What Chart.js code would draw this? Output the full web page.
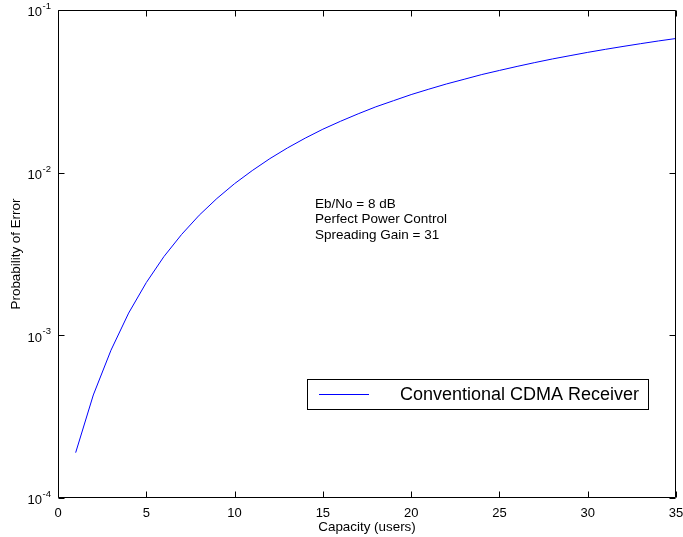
<!DOCTYPE html>
<html>
<head>
<meta charset="utf-8">
<script src="https://cdn.jsdelivr.net/npm/chart.js@4.4.1/dist/chart.umd.min.js"></script>
<style>
  html, body { margin: 0; padding: 0; background: #fff; }
  #wrap { width: 683px; height: 537px; }
</style>
</head>
<body>
<div id="wrap"><canvas id="pe" width="683" height="537"></canvas></div>
<script>
// capacity (number of users) and probability of error
const users = [1, 2, 3, 4, 5, 6, 7, 8, 9, 10, 11, 12, 13, 14, 15, 16, 17, 18,
  19, 20, 21, 22, 23, 24, 25, 26, 27, 28, 29, 30, 31, 32, 33, 34, 35];
const probError = [1.9e-4, 4.3e-4, 8.1e-4, 1.37e-3, 2.11e-3, 3.05e-3, 4.17e-3,
  5.48e-3, 6.94e-3, 8.56e-3, 0.0103, 0.0122, 0.0142, 0.0163, 0.0185, 0.0207,
  0.0230, 0.0254, 0.0277, 0.0302, 0.0326, 0.0351, 0.0375, 0.0401, 0.0425,
  0.0450, 0.0475, 0.0500, 0.0524, 0.0549, 0.0573, 0.0597, 0.0621, 0.0645, 0.0668];

const xTicks = [0, 5, 10, 15, 20, 25, 30, 35];
const yTicks = [1e-4, 1e-3, 1e-2, 1e-1];
const yTickExp = ["-4", "-3", "-2", "-1"];

const seriesName = "Conventional CDMA Receiver";
const noteLines = ["Eb/No = 8 dB", "Perfect Power Control", "Spreading Gain = 31"];

const FONT = "'Liberation Sans', Arial, Helvetica, sans-serif";

// axes box, inward ticks (all 4 sides), y labels as 10^n, note and legend
const matlabAxes = {
  id: "matlabAxes",
  afterDatasetsDraw(chart) {
    const { ctx, chartArea: a, scales } = chart;
    const x = scales.x, y = scales.y;
    const L = Math.round(a.left) + 0.5, R = Math.round(a.right) - 0.5;
    const T = Math.round(a.top) + 0.5, B = Math.round(a.bottom) - 0.5;
    const tl = 6;

    ctx.save();
    ctx.strokeStyle = "#000";
    ctx.lineWidth = 1;
    ctx.beginPath();
    xTicks.forEach(v => {
      const px = Math.round(x.getPixelForValue(v)) + 0.5;
      ctx.moveTo(px, B); ctx.lineTo(px, B - tl);
      ctx.moveTo(px, T); ctx.lineTo(px, T + tl);
    });
    yTicks.forEach(v => {
      const py = Math.round(y.getPixelForValue(v)) + 0.5;
      ctx.moveTo(L, py); ctx.lineTo(L + tl, py);
      ctx.moveTo(R, py); ctx.lineTo(R - tl, py);
    });
    ctx.rect(L, T, R - L, B - T);
    ctx.stroke();

    // y tick labels 10^n
    ctx.fillStyle = "#000";
    ctx.textBaseline = "alphabetic";
    yTicks.forEach((v, i) => {
      const py = y.getPixelForValue(v);
      ctx.font = "13px " + FONT;
      ctx.textAlign = "right";
      ctx.fillText("10", 42, py + 6.3);
      ctx.font = "9.5px " + FONT;
      ctx.textAlign = "left";
      ctx.fillText(yTickExp[i], 42.5, py - 1);
    });

    // annotation
    ctx.font = "13.5px " + FONT;
    ctx.textAlign = "left";
    ctx.textBaseline = "middle";
    noteLines.forEach((s, i) => ctx.fillText(s, 315, 204 + i * 15.5));

    // legend
    const ds = chart.data.datasets[0];
    ctx.fillStyle = "#fff";
    ctx.fillRect(307.5, 379.5, 341, 30);
    ctx.strokeRect(307.5, 379.5, 341, 30);
    ctx.strokeStyle = ds.borderColor;
    ctx.beginPath();
    ctx.moveTo(319, 394.5); ctx.lineTo(369, 394.5);
    ctx.stroke();
    ctx.fillStyle = "#000";
    ctx.font = "18px " + FONT;
    ctx.fillText(ds.label, 400, 395);
    ctx.restore();
  }
};

new Chart(document.getElementById("pe"), {
  type: "line",
  data: {
    datasets: [{
      label: seriesName,
      data: users.map((u, i) => ({ x: u, y: probError[i] })),
      borderColor: "#0000ff",
      borderWidth: 1,
      pointRadius: 0,
      tension: 0,
      fill: false
    }]
  },
  options: {
    responsive: false,
    devicePixelRatio: 1,
    animation: false,
    layout: { padding: { top: 10, right: 7, left: 0, bottom: 0 } },
    plugins: { legend: { display: false }, tooltip: { enabled: false } },
    scales: {
      x: {
        type: "linear",
        min: 0,
        max: 35,
        afterBuildTicks: s => { s.ticks = xTicks.map(v => ({ value: v })); },
        afterFit: s => { s.height = 39; s.paddingLeft = 0; s.paddingRight = 0; },
        grid: { display: false, drawTicks: false },
        border: { display: false },
        ticks: { color: "#000", padding: 8, maxRotation: 0, font: { family: FONT, size: 13 } },
        title: {
          display: true,
          text: "Capacity (users)",
          color: "#000",
          padding: { top: 0, bottom: 1.5 },
          font: { family: FONT, size: 13.4 }
        }
      },
      y: {
        type: "logarithmic",
        min: 1e-4,
        max: 1e-1,
        afterBuildTicks: s => { s.ticks = yTicks.map(v => ({ value: v })); },
        afterFit: s => { s.width = 58; s.paddingTop = 0; s.paddingBottom = 0; },
        grid: { display: false, drawTicks: false },
        border: { display: false },
        ticks: { display: false },
        title: {
          display: true,
          text: "Probability of Error",
          color: "#000",
          padding: { top: 8, bottom: 0 },
          font: { family: FONT, size: 13.4 }
        }
      }
    }
  },
  plugins: [matlabAxes]
});
</script>
</body>
</html>
